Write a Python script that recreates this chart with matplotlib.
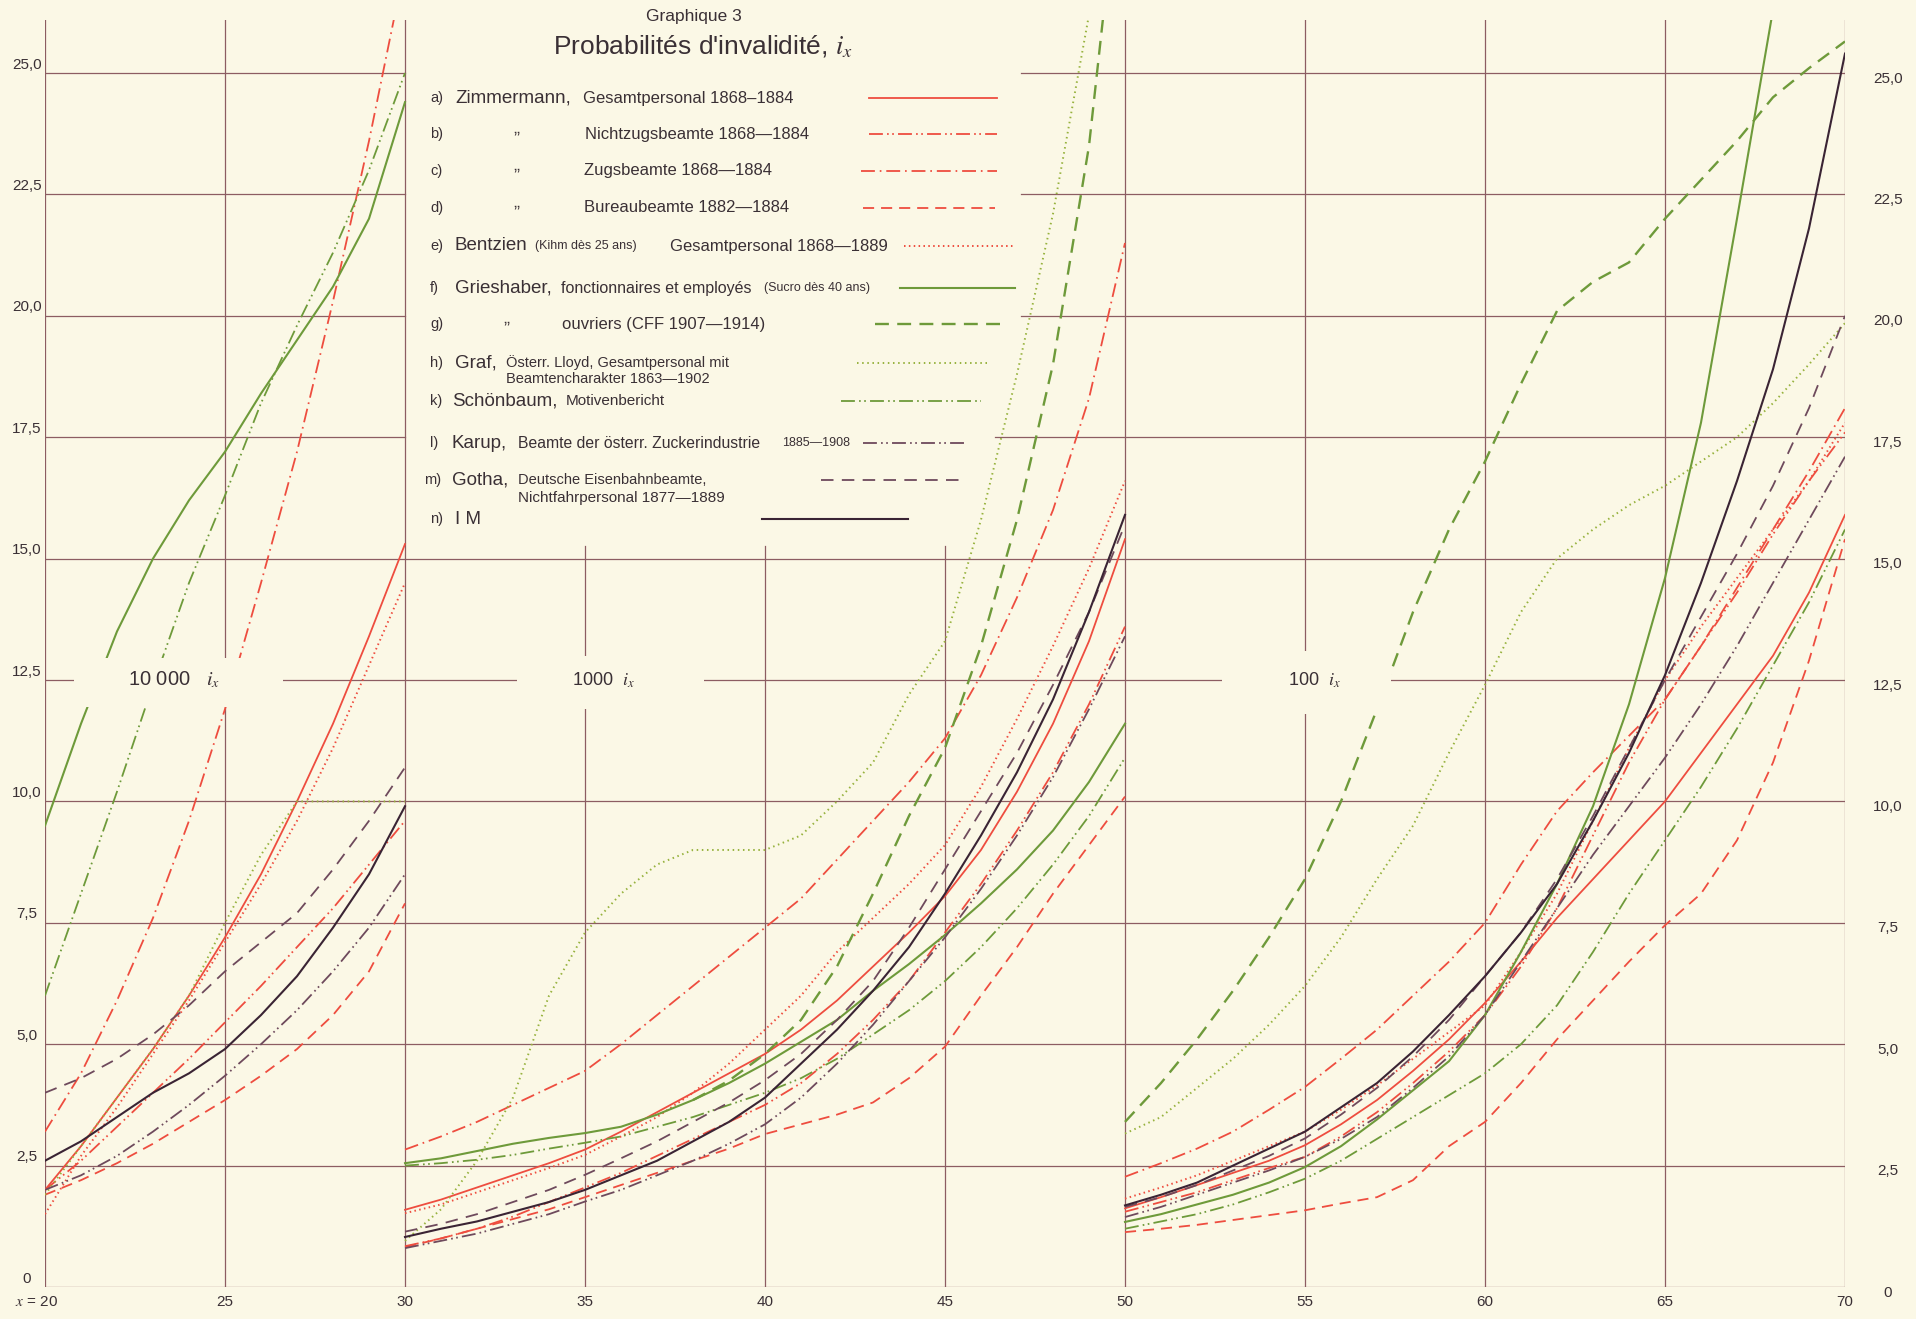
#!/usr/bin/env python3
import matplotlib
matplotlib.use("Agg")
from matplotlib import pyplot as plt
from matplotlib.patches import Rectangle

"""
Graphique 3 - Probabilités d'invalidité, i_x
Trois panneaux : 20-30 ans (10 000 i_x), 30-50 ans (1000 i_x), 50-70 ans (100 i_x)
"""

plt.rcParams['font.family'] = ['Liberation Sans', 'DejaVu Sans']
plt.rcParams['mathtext.fontset'] = 'stix'
plt.rcParams['lines.scale_dashes'] = False

# ---- données ----
AGE_1 = [20, 21, 22, 23, 24, 25, 26, 27, 28, 29, 30]
AGE_2 = list(range(30, 51))
AGE_3 = list(range(50, 71))

# a) Zimmermann, Gesamtpersonal
A_1 = [2.0, 2.9, 3.9, 4.9, 6.0, 7.2, 8.5, 10.0, 11.6, 13.4, 15.3]
A_2 = [1.59, 1.8, 2.05, 2.3, 2.55, 2.83, 3.2, 3.6, 4.0, 4.4, 4.8, 5.3, 5.9, 6.6, 7.3, 8.05, 9.0, 10.2, 11.6, 13.3, 15.4]
A_3 = [1.62, 1.85, 2.1, 2.35, 2.6, 2.92, 3.35, 3.85, 4.45, 5.1, 5.85, 6.7, 7.6, 8.4, 9.2, 10.0, 11.0, 12.0, 13.0, 14.3, 15.9]
# b) Nichtzugsbeamte
B_1 = [2.0, 2.6, 3.3, 4.0, 4.7, 5.45, 6.2, 7.0, 7.8, 8.7, 9.6]
B_2 = [0.84, 1.0, 1.2, 1.45, 1.75, 2.05, 2.35, 2.7, 3.05, 3.4, 3.75, 4.2, 4.8, 5.5, 6.3, 7.3, 8.3, 9.4, 10.6, 12.0, 13.6]
B_3 = [1.55, 1.75, 1.95, 2.2, 2.45, 2.68, 3.1, 3.6, 4.2, 4.85, 5.6, 6.6, 7.8, 9.3, 10.8, 12.1, 13.2, 14.3, 15.5, 16.6, 17.6]
# c) Zugsbeamte
C_AGE_1 = [20, 21, 22, 23, 24, 25, 26, 27, 28, 29, 29.8]
C_1 = [3.2, 4.4, 5.9, 7.6, 9.6, 11.9, 14.5, 17.2, 20.3, 23.6, 26.5]
C_2 = [2.83, 3.1, 3.4, 3.75, 4.1, 4.45, 5.0, 5.6, 6.2, 6.8, 7.4, 8.0, 8.8, 9.6, 10.4, 11.3, 12.6, 14.2, 16.0, 18.3, 21.5]
C_3 = [2.27, 2.55, 2.85, 3.2, 3.65, 4.12, 4.7, 5.3, 6.0, 6.7, 7.5, 8.7, 9.8, 10.6, 11.35, 12.1, 13.2, 14.4, 15.6, 16.8, 18.1]
# d) Bureaubeamte
D_1 = [1.9, 2.2, 2.55, 2.95, 3.4, 3.85, 4.35, 4.9, 5.6, 6.5, 7.9]
D_2 = [0.82, 1.0, 1.2, 1.4, 1.6, 1.85, 2.1, 2.35, 2.6, 2.85, 3.15, 3.35, 3.55, 3.8, 4.3, 4.95, 6.0, 7.0, 8.1, 9.1, 10.1]
D_3 = [1.13, 1.2, 1.28, 1.38, 1.48, 1.58, 1.72, 1.85, 2.2, 2.9, 3.4, 4.2, 5.1, 5.9, 6.7, 7.45, 8.1, 9.2, 10.8, 12.9, 15.4]
# e) Bentzien
E_1 = [1.5, 2.7, 3.7, 4.8, 5.9, 7.1, 8.3, 9.6, 11.1, 12.8, 14.5]
E_2 = [1.52, 1.7, 1.95, 2.2, 2.45, 2.72, 3.1, 3.5, 4.0, 4.6, 5.3, 6.0, 6.9, 7.6, 8.3, 9.1, 10.3, 11.7, 13.2, 14.8, 16.6]
E_3 = [1.82, 2.05, 2.3, 2.6, 2.9, 3.2, 3.65, 4.15, 4.7, 5.25, 5.8, 6.9, 8.1, 9.6, 11.1, 12.5, 13.6, 14.6, 15.6, 16.6, 17.8]
# f) Grieshaber, fonctionnaires et employés
F_1 = [9.5, 11.6, 13.5, 15.0, 16.2, 17.2, 18.4, 19.5, 20.6, 22.0, 24.4]
F_2 = [2.55, 2.65, 2.8, 2.95, 3.07, 3.17, 3.3, 3.55, 3.85, 4.2, 4.6, 5.05, 5.5, 6.1, 6.65, 7.25, 7.9, 8.6, 9.4, 10.4, 11.6]
F_AGE_3 = list(range(50, 69))
F_3 = [1.34, 1.5, 1.7, 1.9, 2.15, 2.47, 2.9, 3.45, 4.05, 4.65, 5.6, 6.9, 8.3, 9.9, 12.0, 14.6, 17.8, 22.0, 26.3]
# g) Grieshaber, ouvriers (CFF)
G_AGE_2 = [38, 39, 40, 41, 42, 43, 44, 45, 46, 47, 48, 49, 49.4]
G_2 = [3.85, 4.25, 4.8, 5.5, 6.6, 8.1, 9.7, 11.1, 13.2, 15.8, 19.0, 23.5, 26.2]
G_3 = [3.4, 4.2, 5.1, 6.1, 7.2, 8.4, 10.0, 11.9, 13.9, 15.6, 17.0, 18.6, 20.1, 20.7, 21.1, 22.0, 22.8, 23.6, 24.5, 25.1, 25.65]
# h) Graf, Österr. Lloyd
H_1 = [1.9, 2.9, 3.9, 4.9, 6.0, 7.5, 8.9, 10.0, 10.0, 10.0, 10.0]
H_AGE_2 = list(range(30, 50))
H_2 = [0.95, 1.6, 2.6, 3.9, 6.0, 7.3, 8.1, 8.7, 9.0, 9.0, 9.0, 9.3, 10.0, 10.8, 12.2, 13.3, 15.8, 18.8, 22.1, 26.2]
H_3 = [3.16, 3.5, 4.1, 4.7, 5.4, 6.2, 7.2, 8.4, 9.5, 11.0, 12.4, 13.9, 15.0, 15.6, 16.1, 16.5, 17.0, 17.5, 18.2, 19.0, 19.85]
# k) Schönbaum
K_1 = [6.0, 8.1, 10.2, 12.4, 14.5, 16.3, 18.2, 19.8, 21.3, 23.0, 25.0]
K_2 = [2.5, 2.55, 2.62, 2.72, 2.85, 2.97, 3.1, 3.3, 3.5, 3.75, 4.0, 4.3, 4.7, 5.2, 5.7, 6.3, 7.0, 7.8, 8.7, 9.7, 10.9]
K_3 = [1.2, 1.35, 1.5, 1.7, 1.95, 2.23, 2.6, 3.05, 3.5, 3.95, 4.4, 5.0, 5.8, 6.9, 8.1, 9.2, 10.3, 11.5, 12.8, 14.1, 15.6]
# l) Karup
L_1 = [2.0, 2.3, 2.7, 3.2, 3.75, 4.35, 5.0, 5.7, 6.5, 7.4, 8.5]
L_2 = [0.8, 0.95, 1.1, 1.3, 1.5, 1.76, 2.0, 2.3, 2.6, 2.95, 3.35, 3.9, 4.6, 5.4, 6.3, 7.2, 8.2, 9.3, 10.5, 11.9, 13.4]
L_3 = [1.44, 1.65, 1.9, 2.15, 2.4, 2.68, 3.05, 3.5, 4.1, 4.75, 5.6, 6.7, 7.8, 8.9, 9.9, 10.9, 12.0, 13.2, 14.5, 15.8, 17.1]
# m) Gotha
M_1 = [4.0, 4.3, 4.7, 5.2, 5.8, 6.5, 7.1, 7.7, 8.6, 9.6, 10.7]
M_2 = [1.14, 1.3, 1.5, 1.75, 2.0, 2.31, 2.65, 3.0, 3.4, 3.8, 4.26, 4.8, 5.5, 6.3, 7.4, 8.6, 9.8, 11.0, 12.4, 13.9, 15.7]
M_3 = [1.65, 1.85, 2.1, 2.4, 2.7, 3.06, 3.55, 4.1, 4.75, 5.5, 6.4, 7.3, 8.4, 9.7, 11.1, 12.5, 13.8, 15.1, 16.5, 18.1, 20.0]
# n) I M
N_1 = [2.6, 3.0, 3.5, 4.0, 4.4, 4.9, 5.6, 6.4, 7.4, 8.5, 9.9]
N_2 = [1.03, 1.2, 1.35, 1.55, 1.75, 2.0, 2.3, 2.6, 3.0, 3.4, 3.9, 4.6, 5.3, 6.1, 7.0, 8.1, 9.3, 10.6, 12.1, 13.9, 15.9]
N_3 = [1.68, 1.9, 2.15, 2.5, 2.85, 3.2, 3.7, 4.2, 4.85, 5.6, 6.4, 7.3, 8.3, 9.6, 11.0, 12.6, 14.5, 16.6, 18.9, 21.8, 25.4]

Y_TICKS = [0, 2.5, 5, 7.5, 10, 12.5, 15, 17.5, 20, 22.5, 25]
Y_LABELS = ['0', '2,5', '5,0', '7,5', '10,0', '12,5', '15,0', '17,5', '20,0', '22,5', '25,0']
X_TICKS = [20, 25, 30, 35, 40, 45, 50, 55, 60, 65, 70]
X_LABELS = ['$x$ = 20', '25', '30', '35', '40', '45', '50', '55', '60', '65', '70']

# ---- couleurs et traits ----
RED = '#ee4d3f'
GREEN = '#6e9a3a'
LIME = '#97b23e'
DARK = '#3a2434'
MAUVE = '#6e4a5c'
GRID = '#8c5d62'
PAPER = '#fbf8e6'
TEXT = '#3a3035'

DASHDOTDOT = (0, (10, 3, 1.2, 2.5, 1.2, 3))
STYLE = {
    'a': (RED, '-', 1.3),
    'b': (RED, DASHDOTDOT, 1.3),
    'c': (RED, (0, (10, 3.5, 1.2, 3.5)), 1.3),
    'd': (RED, (0, (8, 5)), 1.3),
    'e': (RED, (0, (1.1, 2.4)), 1.4),
    'f': (GREEN, '-', 1.5),
    'g': (GREEN, (0, (10, 6)), 1.7),
    'h': (LIME, (0, (1.1, 2.6)), 1.4),
    'k': (GREEN, DASHDOTDOT, 1.3),
    'l': (MAUVE, DASHDOTDOT, 1.3),
    'm': (MAUVE, (0, (9, 6)), 1.3),
    'n': (DARK, '-', 1.5),
}

SERIES = {
    'a': [(AGE_1, A_1), (AGE_2, A_2), (AGE_3, A_3)],
    'b': [(AGE_1, B_1), (AGE_2, B_2), (AGE_3, B_3)],
    'c': [(C_AGE_1, C_1), (AGE_2, C_2), (AGE_3, C_3)],
    'd': [(AGE_1, D_1), (AGE_2, D_2), (AGE_3, D_3)],
    'e': [(AGE_1, E_1), (AGE_2, E_2), (AGE_3, E_3)],
    'f': [(AGE_1, F_1), (AGE_2, F_2), (F_AGE_3, F_3)],
    'g': [(G_AGE_2, G_2), (AGE_3, G_3)],
    'h': [(AGE_1, H_1), (H_AGE_2, H_2), (AGE_3, H_3)],
    'k': [(AGE_1, K_1), (AGE_2, K_2), (AGE_3, K_3)],
    'l': [(AGE_1, L_1), (AGE_2, L_2), (AGE_3, L_3)],
    'm': [(AGE_1, M_1), (AGE_2, M_2), (AGE_3, M_3)],
    'n': [(AGE_1, N_1), (AGE_2, N_2), (AGE_3, N_3)],
}

W, H = 1916, 1319
fig = plt.figure(figsize=(W / 100, H / 100), dpi=100)
fig.patch.set_facecolor(PAPER)

ax = fig.add_axes([45 / W, 32 / H, 1800 / W, 1267.4 / H])
ax.set_xlim(20, 70)
ax.set_ylim(0, 26.1)
ax.axis('off')

# quadrillage (interrompu par la légende)
gk = dict(color=GRID, linewidth=0.9, zorder=1)
for v in Y_TICKS:
    if v <= 15:
        ax.plot([20, 70], [v, v], **gk)
    else:
        ax.plot([20, 30], [v, v], **gk)
        ax.plot([46.4 if v == 17.5 else 47.1, 70], [v, v], **gk)
for x in X_TICKS:
    top = 15.25 if x in (35, 40, 45) else 26.1
    ax.plot([x, x], [0, top], **gk)

# courbes
for key, parts in SERIES.items():
    color, ls, lw = STYLE[key]
    for ages, vals in parts:
        ax.plot(ages, vals, color=color, linestyle=ls, linewidth=lw, zorder=3)

# cartouches d'échelle
for (x0, y0, w, h), txt, xc, fs in [((20.8, 11.95, 5.8, 1.0), '10 000   $i_x$', 23.6, 14.5),
                                    ((33.1, 11.9, 5.2, 1.1), '1000  $i_x$', 35.5, 13),
                                    ((52.7, 11.8, 4.7, 1.3), '100  $i_x$', 55.25, 13)]:
    ax.add_patch(Rectangle((x0, y0), w, h, facecolor=PAPER, edgecolor='none', zorder=5))
    ax.text(xc, 12.5, txt, ha='center', va='center', fontsize=fs, color=TEXT, zorder=6)

# étiquettes des axes
for v, lab in zip(Y_TICKS, Y_LABELS):
    ax.annotate(lab, xy=(0, v), xycoords=('axes fraction', 'data'), xytext=(-13, 6),
                textcoords='offset points', ha='center', va='center', fontsize=11, color=TEXT)
    ax.annotate(lab, xy=(1, v), xycoords=('axes fraction', 'data'), xytext=(31, -4),
                textcoords='offset points', ha='center', va='center', fontsize=11, color=TEXT)
for x, lab in zip(X_TICKS, X_LABELS):
    dx = -6 if x == 20 else 0
    ax.annotate(lab, xy=(x, 0), xycoords=('data', 'axes fraction'), xytext=(dx, -11),
                textcoords='offset points', ha='center', va='center', fontsize=11, color=TEXT)

# ---- titre et légende (coordonnées en pixels) ----
ov = fig.add_axes([0, 0, 1, 1])
ov.set_xlim(0, W)
ov.set_ylim(H, 0)
ov.axis('off')

ov.text(694, 16, 'Graphique 3', ha='center', va='center', fontsize=12.5, color=TEXT)
ov.text(703, 47, "Probabilités d'invalidité, $i_x$", ha='center', va='center', fontsize=19, color=TEXT)

DITTO = '\u201e'
ROWS = [
    ('a', 98, 430, 'a)', [(455, 'Zimmermann,', 13.5), (583, 'Gesamtpersonal 1868\u20131884', 12)], (869, 997)),
    ('b', 134, 430, 'b)', [(513, DITTO, 13), (585, 'Nichtzugsbeamte 1868\u20141884', 12)], (869, 997)),
    ('c', 171, 430, 'c)', [(513, DITTO, 13), (584, 'Zugsbeamte 1868\u20141884', 12)], (861, 997)),
    ('d', 208, 430, 'd)', [(513, DITTO, 13), (584, 'Bureaubeamte 1882\u20141884', 12)], (863, 995)),
    ('e', 246, 430, 'e)', [(455, 'Bentzien', 13.5), (535, '(Kihm dès 25 ans)', 9),
                          (670, 'Gesamtpersonal 1868\u20141889', 12)], (904, 1015)),
    ('f', 288, 430, 'f)', [(455, 'Grieshaber,', 13.5), (561, 'fonctionnaires et employés', 11.5),
                          (764, '(Sucro dès 40 ans)', 9)], (900, 1015)),
    ('g', 324, 430, 'g)', [(503, DITTO, 13), (562, 'ouvriers (CFF 1907\u20141914)', 12)], (875, 1005)),
    ('h', 363, 430, 'h)', [(455, 'Graf,', 13.5), (506, 'Österr. Lloyd, Gesamtpersonal mit', 10.5)], (857, 987)),
    ('k', 401, 430, 'k)', [(452, 'Schönbaum,', 13.5), (566, 'Motivenbericht', 11)], (841, 981)),
    ('l', 443, 430, 'l)', [(452, 'Karup,', 13.5), (518, 'Beamte der österr. Zuckerindustrie', 11.3),
                          (782, '1885\u20141908', 9)], (863, 965)),
    ('m', 480, 424, 'm)', [(452, 'Gotha,', 13.5), (518, 'Deutsche Eisenbahnbeamte,', 10.5)], (821, 960)),
    ('n', 519, 430, 'n)', [(455, 'I M', 13.5)], (762, 908)),
]
for key, y, xl, letter, pieces, (x0, x1) in ROWS:
    ov.text(xl, y, letter, ha='left', va='center', fontsize=10.5, color=TEXT)
    for xp, txt, fs in pieces:
        dy = -6 if txt == DITTO else 0
        ov.text(xp, y + dy, txt, ha='left', va='center', fontsize=fs, color=TEXT)
    color, ls, lw = STYLE[key]
    ov.plot([x0, x1], [y, y], color=color, linestyle=ls, linewidth=lw)
ov.text(506, 379, 'Beamtencharakter 1863\u20141902', ha='left', va='center', fontsize=10.5, color=TEXT)
ov.text(518, 498, 'Nichtfahrpersonal 1877\u20141889', ha='left', va='center', fontsize=11, color=TEXT)

fig.savefig('out.png', dpi=100, facecolor=PAPER)
